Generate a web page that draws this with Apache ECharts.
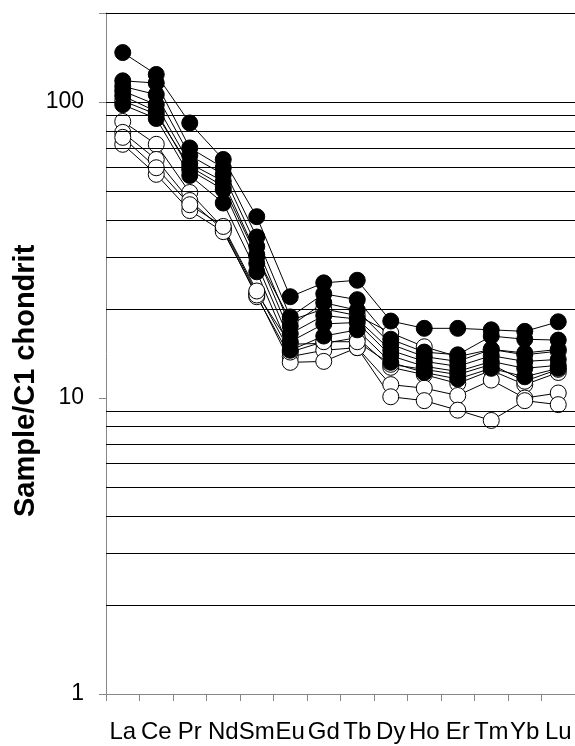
<!DOCTYPE html>
<html>
<head>
<meta charset="utf-8">
<script src="https://cdn.jsdelivr.net/npm/echarts@6/dist/echarts.min.js"></script>
<style>
html,body{margin:0;padding:0;background:#fff;}
#chart{width:575px;height:746px;}
</style>
</head>
<body>
<div id="chart"></div>
<script>
const categories = ['La','Ce','Pr','Nd','Sm','Eu','Gd','Tb','Dy','Ho','Er','Tm','Yb','Lu'];

const filled1 = [147, 124, 85, 64, 41, 22, 24.5, 25, 18.2, 17.2, 17.2, 17, 16.8, 18.1];
const filled2 = [118, 116, 70, 60, 35, 18.8, 22.5, 21.5, 15.8, 14.3, 14, 16.2, 15.8, 15.7];
const filled3 = [113, 106, 66, 57, 32.5, 17.5, 21, 19.8, 15.2, 13.8, 13.3, 14.6, 14.2, 14.6];
const filled4 = [109, 98, 62, 54, 30.5, 16.5, 19, 18.5, 14.5, 13.3, 12.8, 13.9, 13.3, 13.5];
const filled5 = [105, 93, 59, 50.6, 28.5, 15.5, 17.8, 18, 13.9, 12.8, 12.3, 13.3, 12.6, 12.9];
const filled6 = [98, 88, 56.5, 45.6, 26.7, 14.5, 16.2, 17, 13.2, 12.2, 11.6, 12.6, 11.8, 12.6];

const open1 = [86, 72, 49.5, 37.5, 22.6, 15.2, 15.3, 16, 12.7, 12, 11.2, 12.4, 11.1, 12.2];
const open2 = [79, 64, 46.5, 37, 22, 13.8, 14.5, 14.8, 11.1, 10.8, 10.2, 11.5, 10, 10.4];
const open3 = [72, 57, 43, 36.5, 22.3, 13.2, 13.3, 14.8, 10.1, 9.8, 9.1, 8.4, 9.8, 9.5];
const open4 = [76, 60, 45, 38, 23, 14.3, 15.5, 15.5, 13, 12.5, 12, 13, 11.4, 12.5];
const open5 = [101, 91, 60.5, 52, 30, 18.3, 20, 19, 16.6, 14.9, 13.8, 14.6, 14, 14.4];

const yLabels = [1, 10, 100];
const gridValues = [2,3,4,5,6,7,8,9,20,30,40,50,60,70,80,90,100,200];
const axisTitle = 'Sample/C1 chondrite';

const filledSeries = [filled1, filled2, filled3, filled4, filled5, filled6];
const openSeries = [open5, open1, open2, open3, open4];

function makeSeries(data, isFilled, name) {
  return {
    name: name,
    type: 'line',
    data: data,
    symbol: 'circle',
    symbolSize: 16,
    showSymbol: true,
    animation: false,
    lineStyle: { color: '#000', width: 1 },
    itemStyle: isFilled
      ? { color: '#000', borderColor: '#000', borderWidth: 1 }
      : { color: '#fff', borderColor: '#000', borderWidth: 1 },
    emphasis: { disabled: true },
    z: 3
  };
}

const series = [{
  type: 'line',
  data: [],
  silent: true,
  animation: false,
  z: 1,
  markLine: {
    silent: true,
    symbol: ['none', 'none'],
    animation: false,
    label: { show: false },
    lineStyle: { color: '#000', width: 1, type: 'solid' },
    data: gridValues.map(v => ({ yAxis: v }))
  }
}];
openSeries.forEach((d, i) => series.push(makeSeries(d, false, 'open' + (i + 1))));
filledSeries.forEach((d, i) => series.push(makeSeries(d, true, 'filled' + (i + 1))));

const chart = echarts.init(document.getElementById('chart'), null, { renderer: 'canvas' });
chart.setOption({
  backgroundColor: '#fff',
  animation: false,
  grid: { left: 106, top: 13, width: 474, height: 681, containLabel: false },
  xAxis: {
    type: 'category',
    data: categories,
    boundaryGap: true,
    axisLine: { show: true, lineStyle: { color: '#868686', width: 1 } },
    axisTick: { show: true, interval: 0, length: 7, lineStyle: { color: '#868686', width: 1 } },
    axisLabel: {
      interval: 0,
      margin: 26,
      color: '#000',
      fontSize: 24,
      fontFamily: 'Liberation Sans'
    },
    splitLine: { show: false }
  },
  yAxis: {
    type: 'log',
    logBase: 10,
    min: 1,
    max: 200,
    axisLine: { show: true, lineStyle: { color: '#868686', width: 1 } },
    axisTick: { show: true, length: 7, lineStyle: { color: '#868686', width: 1 } },
    axisLabel: {
      margin: 22,
      color: '#000',
      fontSize: 23,
      fontFamily: 'Liberation Sans',
      formatter: function (v) {
        for (const l of yLabels) { if (Math.abs(v - l) < 1e-6 * l) return String(l); }
        return '';
      }
    },
    splitLine: { show: false },
    minorTick: { show: false },
    minorSplitLine: { show: false }
  },
  graphic: [{
    type: 'text',
    x: 26,
    y: 517,
    rotation: Math.PI / 2,
    silent: true,
    style: {
      text: axisTitle,
      font: 'bold 29px "Liberation Sans"',
      fill: '#000',
      align: 'left',
      verticalAlign: 'middle',
      width: 276,
      overflow: 'truncate',
      ellipsis: ''
    }
  }],
  series: series
});
</script>
</body>
</html>
